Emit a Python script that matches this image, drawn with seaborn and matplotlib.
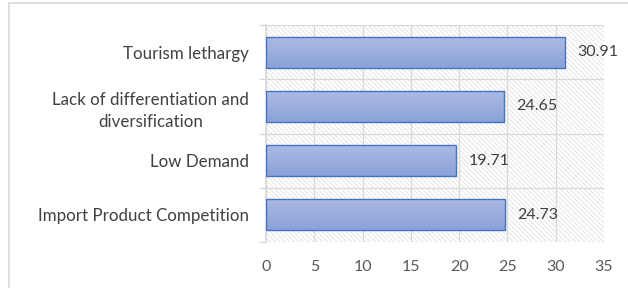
import matplotlib
matplotlib.use("Agg")
import matplotlib.pyplot as plt
import seaborn as sns
import pandas as pd
import numpy as np
from matplotlib.patches import Rectangle
from matplotlib.colors import LinearSegmentedColormap

categories = ["Tourism lethargy",
              "Lack of differentiation and\ndiversification",
              "Low Demand",
              "Import Product Competition"]
values = [30.91, 24.65, 19.71, 24.73]
xticks = [0, 5, 10, 15, 20, 25, 30, 35]

df = pd.DataFrame({"category": categories, "value": values})

sns.set_theme(style="white")
plt.rcParams["font.family"] = ["Lato", "DejaVu Sans"]
plt.rcParams["hatch.linewidth"] = 0.6

fig = plt.figure(figsize=(6.28, 2.88), dpi=100)
ax = fig.add_axes([266 / 628, 1 - 242 / 288, 338 / 628, 217 / 288])

# outer frame of the chart area
fig.patches.append(Rectangle((9 / 628, -0.1), 1.2, 1 - 3 / 288 + 0.1,
                             transform=fig.transFigure, fill=False,
                             edgecolor="#d9d9d9", linewidth=1.2))

sns.barplot(data=df, x="value", y="category", orient="h", width=0.57,
            color="#97acdd", edgecolor="#4472c4", linewidth=1.0, ax=ax,
            zorder=3)

# hatched plot background
ax.set_facecolor("white")
ax.add_patch(Rectangle((0, 0), 1, 1, transform=ax.transAxes, fill=False,
                       hatch="\\" * 7, edgecolor="#e0e0e0", linewidth=0,
                       zorder=0))

# gradient fill on the bars
cmap = LinearSegmentedColormap.from_list("g", ["#8ba2d8", "#abbae3"])
grad = np.linspace(0, 1, 64).reshape(-1, 1)
for bar in list(ax.patches):
    if bar.get_zorder() != 3:
        continue
    x0, y0 = bar.get_x(), bar.get_y()
    w, h = bar.get_width(), bar.get_height()
    im = ax.imshow(grad, cmap=cmap, aspect="auto", origin="lower",
                   extent=[x0, x0 + w, y0 + h, y0], zorder=3.5)
    im.set_clip_path(bar)
    bar.set_zorder(4)
    bar.set_facecolor("none")

for i, v in enumerate(values):
    ax.text(v + 1.3, i, f"{v:.2f}", va="center", ha="left",
            fontsize=11.5, color="#404040", zorder=5)

ax.set_xlim(0, 35)
ax.set_ylim(len(categories) - 0.5, -0.5)
ax.set_xticks(xticks)
ax.set_xticklabels([str(t) for t in xticks])
for x in xticks:
    ax.axvline(x, color="#d9d9d9", linewidth=0.9, zorder=1)
for y in np.arange(-0.5, len(categories), 1):
    ax.axhline(y, color="#d9d9d9", linewidth=0.9, zorder=1)

for s in ["top", "right", "bottom"]:
    ax.spines[s].set_visible(False)
ax.spines["left"].set_color("#d9d9d9")
ax.set_yticks(np.arange(-0.5, len(categories), 1), minor=True)
ax.tick_params(axis="y", which="minor", length=5, color="#d9d9d9", left=True)
ax.tick_params(axis="y", which="major", length=0, labelsize=12.2,
               labelcolor="#404040", pad=12)
ax.tick_params(axis="x", length=0, labelsize=11.5, labelcolor="#595959", pad=13)
for lab in ax.get_yticklabels():
    lab.set_horizontalalignment("right")
    lab.set_multialignment("center")
    lab.set_linespacing(1.45)
ax.set_xlabel("")
ax.set_ylabel("")

fig.savefig("out.png", dpi=100)
